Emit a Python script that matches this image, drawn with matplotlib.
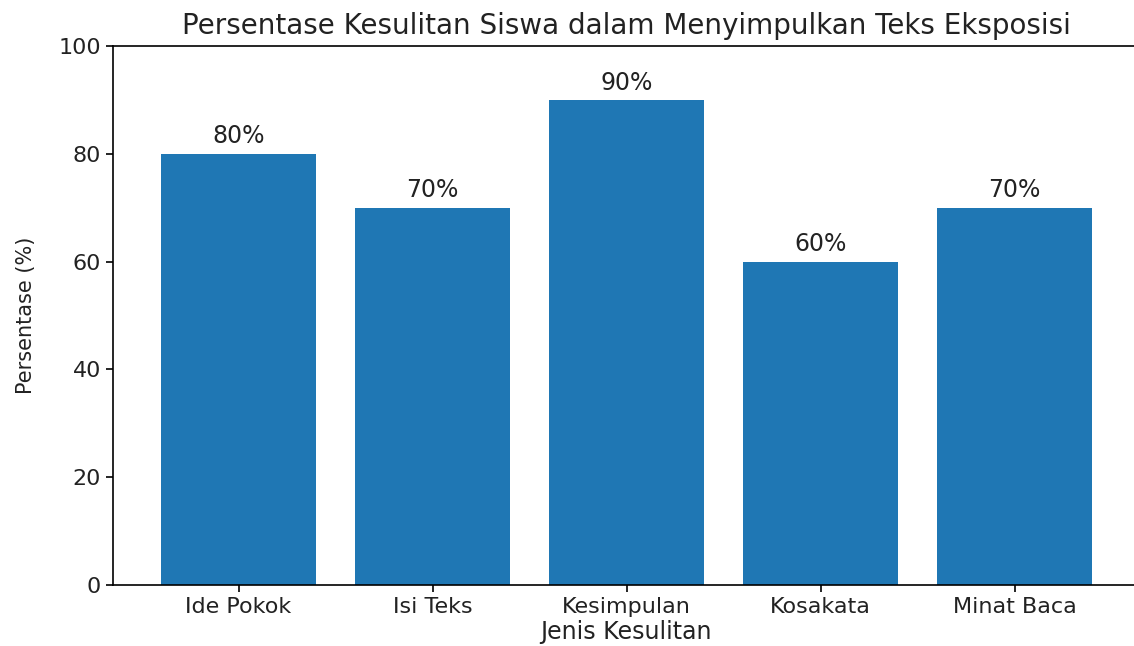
import matplotlib
matplotlib.use('Agg')
import matplotlib.pyplot as plt

# Jenis kesulitan dan persentasenya
categories = ['Ide Pokok', 'Isi Teks', 'Kesimpulan', 'Kosakata', 'Minat Baca']
values = [80, 70, 90, 60, 70]

fig = plt.figure(figsize=(11.34, 6.46), dpi=100)
# axes run slightly past the right edge (the reference is cropped there)
ax = fig.add_axes([113 / 1134, 1 - 585 / 646, (1139 - 113) / 1134, (585 - 46) / 646])

bars = ax.bar(categories, values, width=0.8, color='#1f77b4')
for b, v in zip(bars, values):
    ax.text(b.get_x() + b.get_width() / 2, v + 1, f'{v}%',
            ha='center', va='bottom', fontsize=17, color='#222222')

ax.set_xlim(-0.647, 4.64)
ax.set_ylim(0, 100)
ax.set_title('Persentase Kesulitan Siswa dalam Menyimpulkan Teks Eksposisi',
             fontsize=20, color='#222222', pad=9)
ax.set_xlabel('Jenis Kesulitan', fontsize=17, color='#222222', labelpad=2)
ax.set_ylabel('Persentase (%)', fontsize=15, color='#222222', labelpad=16)
ax.tick_params(labelsize=16, length=5, width=1.2, labelcolor='#222222')
for s in ax.spines.values():
    s.set_linewidth(1.2)

fig.savefig('out.png', dpi=100)
